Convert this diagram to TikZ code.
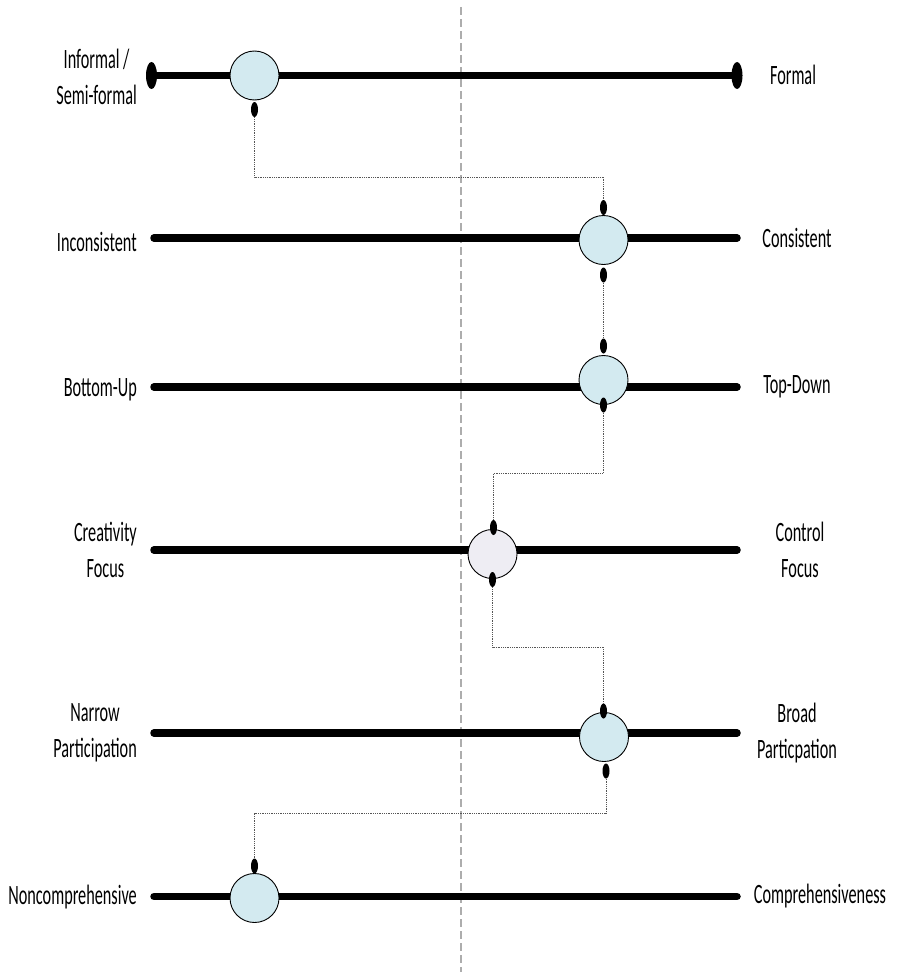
\documentclass[tikz,border=0pt]{standalone}
\usepackage{fontspec}
\setmainfont{Carlito}[FakeStretch=0.58]
\usetikzlibrary{shapes.geometric}
\definecolor{dotblue}{HTML}{D3EAF0}
\definecolor{dotlav}{HTML}{EEEDF3}
\definecolor{midline}{HTML}{ADADAD}
\definecolor{linkgray}{HTML}{555555}
\begin{document}
\begin{tikzpicture}[x=1pt,y=-1pt,
  bar/.style={line width=7.5pt, line cap=round},
  dotnode/.style={circle, draw=black, line width=0.9pt, minimum size=49pt, inner sep=0pt, fill=dotblue},
  tipnode/.style={ellipse, fill=black, minimum width=7pt, minimum height=15pt, inner sep=0pt},
  endnode/.style={ellipse, fill=black, minimum width=11pt, minimum height=27pt, inner sep=0pt},
  link/.style={densely dotted, line width=0.8pt, draw=linkgray},
  lab/.style={font=\fontsize{28}{36}\selectfont, align=center, inner sep=0pt}]
\useasboundingbox (0,0) rectangle (897,974);
% centre dashed line
\draw[midline, line width=1.7pt, dash pattern=on 8pt off 4pt] (461,7) -- (461,972);
% bars
\node[endnode] (e1) at (151.5,75.5) {};
\node[endnode] (e2) at (737,75.5) {};
\draw[bar] (e1.center) -- (e2.center);
\coordinate (a2) at (154,238); \coordinate (b2) at (737,238);
\coordinate (a3) at (154,387); \coordinate (b3) at (737,387);
\coordinate (a4) at (154,550); \coordinate (b4) at (737,550);
\coordinate (a5) at (154,733); \coordinate (b5) at (737,733);
\coordinate (a6) at (154,896.5); \coordinate (b6) at (737,896.5);
\draw[bar] (a2) -- (b2);
\draw[bar] (a3) -- (b3);
\draw[bar] (a4) -- (b4);
\draw[bar] (a5) -- (b5);
\draw[bar] (a6) -- (b6);
% markers
\node[dotnode] (c1) at (254.5,75.5) {};
\node[dotnode] (c2) at (603.5,240) {};
\node[dotnode] (c3) at (603.5,380) {};
\node[dotnode, fill=dotlav] (c4) at (492.5,554) {};
\node[dotnode] (c5) at (604,737) {};
\node[dotnode] (c6) at (254.5,898) {};
% connector tips
\node[tipnode] (t1b) at (254.5,109.5) {};
\node[tipnode] (t2t) at (603.5,207.5) {};
\node[tipnode] (t2b) at (603.5,275) {};
\node[tipnode] (t3t) at (603.5,346) {};
\node[tipnode] (t3b) at (603.5,405) {};
\node[tipnode] (t4t) at (493.5,527.5) {};
\node[tipnode] (t4b) at (492.5,579.5) {};
\node[tipnode] (t5t) at (603.5,711) {};
\node[tipnode] (t5b) at (606,771) {};
\node[tipnode] (t6t) at (254.5,866) {};
% connectors
\coordinate (j1) at (430,177);
\coordinate (j2) at (550,473);
\coordinate (j3) at (550,647);
\coordinate (j4) at (430,813);
\draw[link] (t1b.south) |- (j1) -| (t2t.north);
\draw[link] (t2b.south) -- (t3t.north);
\draw[link] (t3b.south) |- (j2) -| (t4t.north);
\draw[link] (t4b.south) |- (j3) -| (t5t.north);
\draw[link] (t5b.south) |- (j4) -| (t6t.north);
% left labels
\node[lab, anchor=east] (l1) at (137,77) {Informal /\\Semi-formal};
\node[lab, anchor=east] (l2) at (137,242) {Inconsistent};
\node[lab, anchor=east] (l3) at (137,390) {Bottom-Up};
\node[lab, anchor=east] (l4) at (137,550) {Creativity\\Focus};
\node[lab, anchor=east] (l5) at (137,733) {Narrow\\Participation};
\node[lab, anchor=east] (l6) at (137,897) {Noncomprehensive};
% right labels
\node[lab] (r1) at (793,75) {Formal};
\node[lab] (r2) at (797,238) {Consistent};
\node[lab] (r3) at (797,387) {Top-Down};
\node[lab] (r4) at (800,550) {Control\\Focus};
\node[lab] (r5) at (797,733) {Broad\\Particpation};
\node[lab] (r6) at (820,896) {Comprehensiveness};
\end{tikzpicture}
\end{document}
